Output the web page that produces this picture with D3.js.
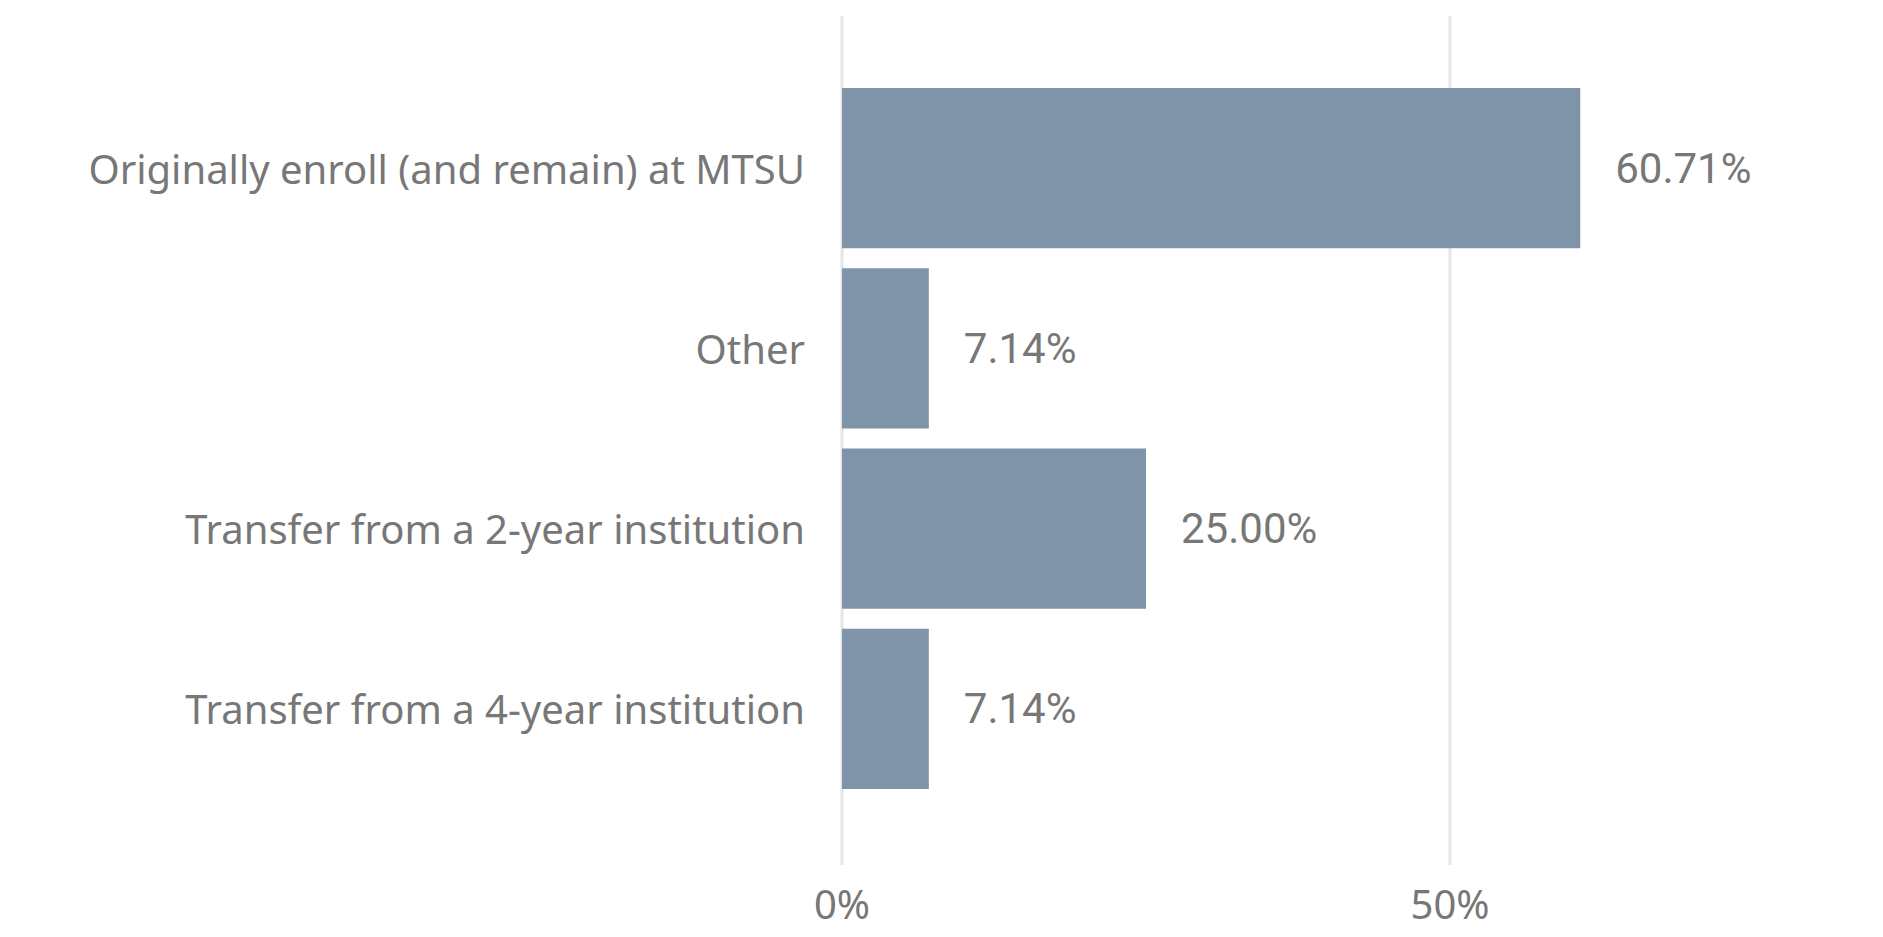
<!DOCTYPE html>
<html lang="en">

<head>
    <meta charset="UTF-8" />
    <title>Enrollment path</title>
    <script src="https://cdn.jsdelivr.net/npm/d3@7"></script>
    <style>
        body { margin: 0; background: #fff; }
    </style>
</head>

<body>
<script>
    let w = 1883;
    let h = 937;

    // data
    let categories = [
        "Originally enroll (and remain) at MTSU",
        "Other",
        "Transfer from a 2-year institution",
        "Transfer from a 4-year institution"
    ];
    let values = [60.71, 7.14, 25.00, 7.14];
    let tickValues = [0, 50];

    let svg = d3.select("body").append("svg")
        .attr("width", w)
        .attr("height", h);

    let x = d3.scaleLinear()
        .domain([0, 50])
        .range([842, 1450]);

    let y = d3.scaleBand()
        .domain(categories)
        .range([78, 799])
        .paddingInner(0.111)
        .paddingOuter(0.0555);

    // gridlines
    svg.append("g").selectAll("line")
        .data(tickValues)
        .enter()
        .append("line")
        .attr("x1", d => x(d))
        .attr("x2", d => x(d))
        .attr("y1", 16)
        .attr("y2", 865)
        .attr("stroke", "#e6e6e6")
        .attr("stroke-width", 3);

    // x tick labels
    svg.append("g").selectAll("text")
        .data(tickValues)
        .enter()
        .append("text")
        .attr("x", d => x(d))
        .attr("y", 903)
        .attr("text-anchor", "middle")
        .attr("dominant-baseline", "central")
        .attr("font-family", "'Noto Sans', sans-serif")
        .attr("font-size", 40)
        .attr("fill", "#777")
        .text(d => d + "%");

    // bars
    svg.append("g").selectAll("rect")
        .data(values)
        .enter()
        .append("rect")
        .attr("x", x(0))
        .attr("y", (d, i) => y(categories[i]))
        .attr("width", d => x(d) - x(0))
        .attr("height", y.bandwidth())
        .attr("fill", "#7f94a9");

    // category labels
    svg.append("g").selectAll("text")
        .data(categories)
        .enter()
        .append("text")
        .attr("x", 805)
        .attr("y", d => y(d) + y.bandwidth() / 2)
        .attr("text-anchor", "end")
        .attr("dominant-baseline", "central")
        .attr("font-family", "'Noto Sans', sans-serif")
        .attr("font-size", 40)
        .attr("fill", "#777")
        .text(d => d);

    // value labels
    svg.append("g").selectAll("text")
        .data(values)
        .enter()
        .append("text")
        .attr("x", d => x(d) + 35)
        .attr("y", (d, i) => y(categories[i]) + y.bandwidth() / 2)
        .attr("dominant-baseline", "central")
        .attr("font-family", "Roboto, sans-serif")
        .attr("font-size", 42)
        .attr("fill", "#777")
        .text(d => d.toFixed(2) + "%");
</script>
</body>

</html>
